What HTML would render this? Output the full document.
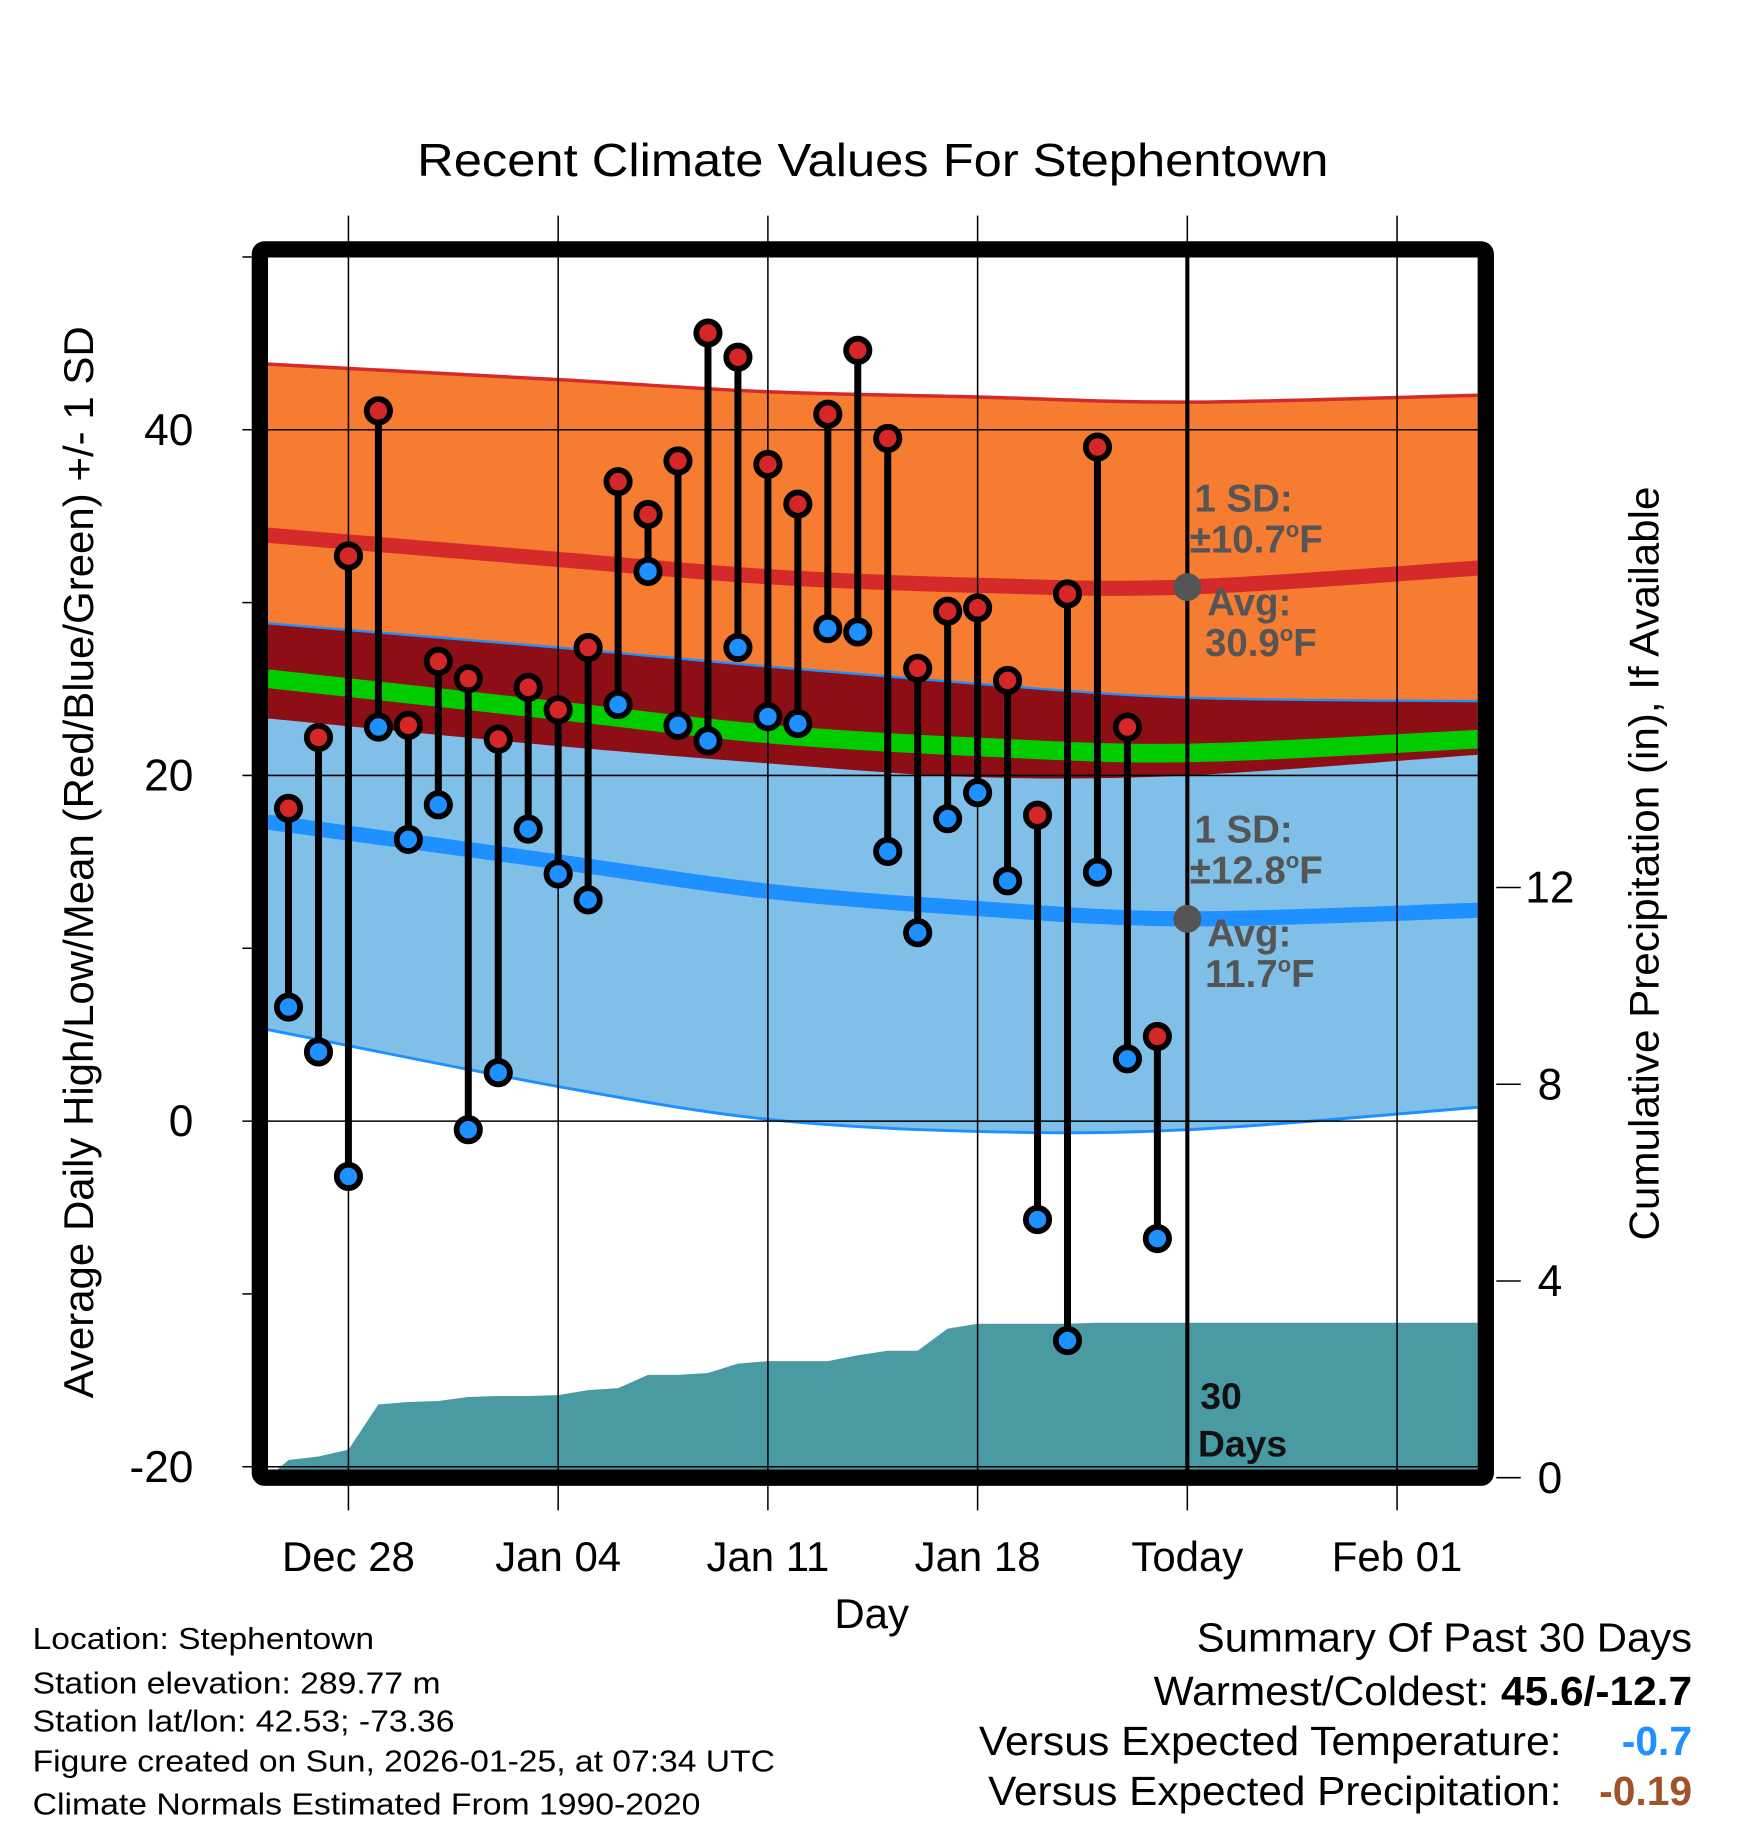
<!DOCTYPE html>
<html><head><meta charset="utf-8"><style>
html,body{margin:0;padding:0;background:#fff}
svg{display:block}
text{font-family:"Liberation Sans",sans-serif}
</style></head><body>
<svg id="chart" width="1748" height="1828" viewBox="0 0 1500 1568.6" preserveAspectRatio="none" xmlns="http://www.w3.org/2000/svg">
<defs><clipPath id="plotclip"><rect x="230" y="221" width="1038" height="1040"/></clipPath></defs>
<rect width="1500" height="1568.6" fill="#fff"/>
<text x="749" y="151" font-size="40" text-anchor="middle" textLength="782" lengthAdjust="spacingAndGlyphs">Recent Climate Values For Stephentown</text>
<g id="bands" clip-path="url(#plotclip)"></g>
<g id="grid"></g>
<g id="marks"></g>
<g id="axes"></g>
<rect x="223" y="214" width="1052" height="1054" fill="none" stroke="#000" stroke-width="14" rx="4"/>
<g font-size="26">
<text x="28" y="1415" textLength="293" lengthAdjust="spacingAndGlyphs">Location: Stephentown</text>
<text x="28" y="1453" textLength="350" lengthAdjust="spacingAndGlyphs">Station elevation: 289.77 m</text>
<text x="28" y="1486" textLength="362" lengthAdjust="spacingAndGlyphs">Station lat/lon: 42.53; -73.36</text>
<text x="28" y="1520" textLength="637" lengthAdjust="spacingAndGlyphs">Figure created on Sun, 2026-01-25, at 07:34 UTC</text>
<text x="28" y="1557" textLength="573" lengthAdjust="spacingAndGlyphs">Climate Normals Estimated From 1990-2020</text>
</g>
<g font-size="35">
<text x="1452" y="1417" text-anchor="end" textLength="425" lengthAdjust="spacingAndGlyphs">Summary Of Past 30 Days</text>
<text x="1452" y="1463" text-anchor="end" textLength="462" lengthAdjust="spacingAndGlyphs">Warmest/Coldest: <tspan font-weight="bold">45.6/-12.7</tspan></text>
<text x="1340" y="1506" text-anchor="end" textLength="500" lengthAdjust="spacingAndGlyphs">Versus Expected Temperature:</text>
<text x="1452" y="1506" text-anchor="end" font-weight="bold" fill="#1e90ff">-0.7</text>
<text x="1340" y="1549" text-anchor="end" textLength="492" lengthAdjust="spacingAndGlyphs">Versus Expected Precipitation:</text>
<text x="1452" y="1549" text-anchor="end" font-weight="bold" fill="#a0522d">-0.19</text>
</g>
</svg>
<script>
// ---- data ----
const normDays = [-2.7, 7, 14, 21, 28, 37.7];
const highUpper = [43.8, 42.9, 42.2, 41.9, 41.6, 42.0];
const highMean  = [33.9, 32.5, 31.5, 31.0, 30.9, 32.0];
const highLower = [23.3, 21.7, 20.7, 19.9, 20.0, 21.2];
const lowUpper  = [28.8, 27.4, 26.3, 25.3, 24.5, 24.3];
const lowMean   = [17.3, 15.0, 13.3, 12.3, 11.7, 12.2];
const lowLower  = [5.3, 2.0, 0.1, -0.6, -0.5, 0.8];
const obsDays = [-2,-1,0,1,2,3,4,5,6,7,8,9,10,11,12,13,14,15,16,17,18,19,20,21,22,23,24,25,26,27];
const highs = [18.1,22.2,32.7,41.1,22.9,26.6,25.6,22.1,25.1,23.8,27.4,37.0,35.1,38.2,45.6,44.2,38.0,35.7,40.9,44.6,39.5,26.2,29.5,29.7,25.5,17.7,30.5,39.0,22.8,4.9];
const lows  = [6.6,4.0,-3.2,22.8,16.3,18.3,-0.5,2.8,16.9,14.3,12.8,24.1,31.8,22.9,22.0,27.4,23.4,23.0,28.5,28.3,15.6,10.9,17.5,19.0,13.9,-5.7,-12.7,14.4,3.6,-6.8];
const precip = [0.36,0.43,0.57,1.49,1.54,1.56,1.64,1.66,1.66,1.68,1.78,1.82,2.09,2.09,2.13,2.32,2.37,2.37,2.37,2.49,2.58,2.58,3.03,3.13,3.13,3.13,3.13,3.15,3.15,3.15];
const xTickDays = [0,7,14,21,28,35];
const xTickLabels = ["Dec 28","Jan 04","Jan 11","Jan 18","Today","Feb 01"];
const yTicks = [40,20,0,-20];
const yMinor = [50,30,10,-10];
const pTicks = [0,4,8,12];
const todayDay = 28;

// ---- scales ----
const X = d => 299 + d*25.71;
const Y = v => 962 - v*14.83;
const P = p => 1268 - p*42.2;
const NS = "http://www.w3.org/2000/svg";
function mk(tag, parent, attrs){const e=document.createElementNS(NS,tag);for(const k in attrs)e.setAttribute(k,attrs[k]);parent.appendChild(e);return e;}
function pts(arr){return normDays.map((d,i)=>[X(d),Y(arr[i])]);}
function smooth(p){let s="";for(let i=0;i<p.length-1;i++){const p0=p[Math.max(i-1,0)],p1=p[i],p2=p[i+1],p3=p[Math.min(i+2,p.length-1)];
 const c1=[p1[0]+(p2[0]-p0[0])/6,p1[1]+(p2[1]-p0[1])/6],c2=[p2[0]-(p3[0]-p1[0])/6,p2[1]-(p3[1]-p1[1])/6];
 s+=` C${c1[0]},${c1[1]} ${c2[0]},${c2[1]} ${p2[0]},${p2[1]}`;}return s;}
function line(arr){const p=pts(arr);return `M${p[0][0]},${p[0][1]}`+smooth(p);}
function band(a,b){const pa=pts(a),pb=pts(b).reverse();return `M${pa[0][0]},${pa[0][1]}`+smooth(pa)+` L${pb[0][0]},${pb[0][1]}`+smooth(pb)+"Z";}

const bands=document.getElementById('bands');
let e;
e=mk('path',bands,{d:band(highUpper,highLower),fill:'#f57c30'});


e=mk('path',bands,{d:band(lowUpper,lowLower),fill:'#80c0e8'});


e=mk('path',bands,{d:band(lowUpper,highLower),fill:'#8e0e16'});


const meanArr=highMean.map((v,i)=>(v+lowMean[i])/2);
e=mk('path',bands,{d:line(meanArr),fill:'none',stroke:'#00cc00','stroke-width':16});


e=mk('path',bands,{d:line(highMean),fill:'none',stroke:'#d42a2a','stroke-width':13});


e=mk('path',bands,{d:line(lowMean),fill:'none',stroke:'#1e90ff','stroke-width':13});


e=mk('path',bands,{d:line(highUpper),fill:'none',stroke:'#d42a2a','stroke-width':3});


e=mk('path',bands,{d:line(lowUpper),fill:'none',stroke:'#1e90ff','stroke-width':2});


e=mk('path',bands,{d:line(lowLower),fill:'none',stroke:'#1e90ff','stroke-width':2.5});


// precip area
let pd=`M230,${P(0)} L230,${P(0)}`;
obsDays.forEach((d,i)=>{pd+=` L${X(d)},${P(precip[i])}`;});
pd+=` L1268,${P(precip[precip.length-1])} L1268,${P(0)} Z`;
e=mk('path',bands,{d:pd,fill:'#4a9aa3'});



// grid
const grid=document.getElementById('grid');
xTickDays.forEach(d=>{
 e=mk('line',grid,{x1:X(d),x2:X(d),y1:185,y2:1296,stroke:'#000','stroke-width':1.3});
 
 
});
yTicks.forEach(v=>{
 e=mk('line',grid,{x1:208,x2:1268,y1:Y(v),y2:Y(v),stroke:'#000','stroke-width':1.3});
 
 
});
// today line
e=mk('line',grid,{x1:X(todayDay),x2:X(todayDay),y1:214,y2:1268,stroke:'#000','stroke-width':3.5});



// marks
const marks=document.getElementById('marks');
obsDays.forEach((d,i)=>{
 e=mk('line',marks,{x1:X(d),x2:X(d),y1:Y(highs[i]),y2:Y(lows[i]),stroke:'#000','stroke-width':6});
 
 
 e=mk('circle',marks,{cx:X(d),cy:Y(highs[i]),r:10,fill:'#d62728',stroke:'#000','stroke-width':5});
 
 
 e=mk('circle',marks,{cx:X(d),cy:Y(lows[i]),r:10,fill:'#1e90ff',stroke:'#000','stroke-width':5});
 
 
});
const todayIdx=normDays.indexOf(todayDay);
e=mk('circle',marks,{cx:X(todayDay),cy:Y(highMean[todayIdx]),r:12,fill:'#555'});


e=mk('circle',marks,{cx:X(todayDay),cy:Y(lowMean[todayIdx]),r:12,fill:'#555'});



function txt(parent,x,y,s,attrs,name){const t=mk('text',parent,Object.assign({x:x,y:y},attrs));t.innerHTML=s;return t;}
const ann={fill:'#555','font-weight':'bold','font-size':33};
txt(marks,1025,439,'1 SD:',ann,'high-sd-label');
txt(marks,1021,474,'±10.7<tspan font-size="19" dy="-13">o</tspan><tspan dy="13">F</tspan>',ann,'high-sd-value');
txt(marks,1036,528,'Avg:',ann,'high-avg-label');
txt(marks,1034,563,'30.9<tspan font-size="19" dy="-13">o</tspan><tspan dy="13">F</tspan>',ann,'high-avg-value');
txt(marks,1025,723,'1 SD:',ann,'low-sd-label');
txt(marks,1021,758,'±12.8<tspan font-size="19" dy="-13">o</tspan><tspan dy="13">F</tspan>',ann,'low-sd-value');
txt(marks,1036,812,'Avg:',ann,'low-avg-label');
txt(marks,1034,847,'11.7<tspan font-size="19" dy="-13">o</tspan><tspan dy="13">F</tspan>',ann,'low-avg-value');
txt(marks,1030,1209,'30',{fill:'#111','font-weight':'bold','font-size':32},'days-count');
txt(marks,1028,1250,'Days',{fill:'#111','font-weight':'bold','font-size':32},'days-label');

// axes
const axes=document.getElementById('axes');
yTicks.forEach(v=>{txt(axes,166,Y(v)+13,String(v),{'font-size':38,'text-anchor':'end'},'y-tick-label');});
yMinor.forEach(v=>{e=mk('line',axes,{x1:208,x2:216,y1:Y(v),y2:Y(v),stroke:'#000','stroke-width':1.3});
 
 });
pTicks.forEach(p=>{
 e=mk('line',axes,{x1:1284,x2:1305,y1:P(p),y2:P(p),stroke:'#000','stroke-width':1.3});
 
 
 txt(axes,1330,P(p)+13,String(p),{'font-size':38,'text-anchor':'middle'},'precip-tick-label');
});
xTickDays.forEach((d,i)=>{txt(axes,X(d),1348,xTickLabels[i],{'font-size':36,'text-anchor':'middle'},'x-tick-label');});
txt(axes,748,1397,'Day',{'font-size':36,'text-anchor':'middle'},'x-axis-title');
txt(axes,0,0,'Average Daily High/Low/Mean (Red/Blue/Green) +/- 1 SD',{'font-size':36,'text-anchor':'middle',textLength:920,lengthAdjust:'spacingAndGlyphs',transform:'translate(80,740) rotate(-90)'},'y-axis-title');
txt(axes,0,0,'Cumulative Precipitation (in), If Available',{'font-size':36,'text-anchor':'middle',textLength:647,lengthAdjust:'spacingAndGlyphs',transform:'translate(1423,741) rotate(-90)'},'y2-axis-title');
</script>
</body></html>
